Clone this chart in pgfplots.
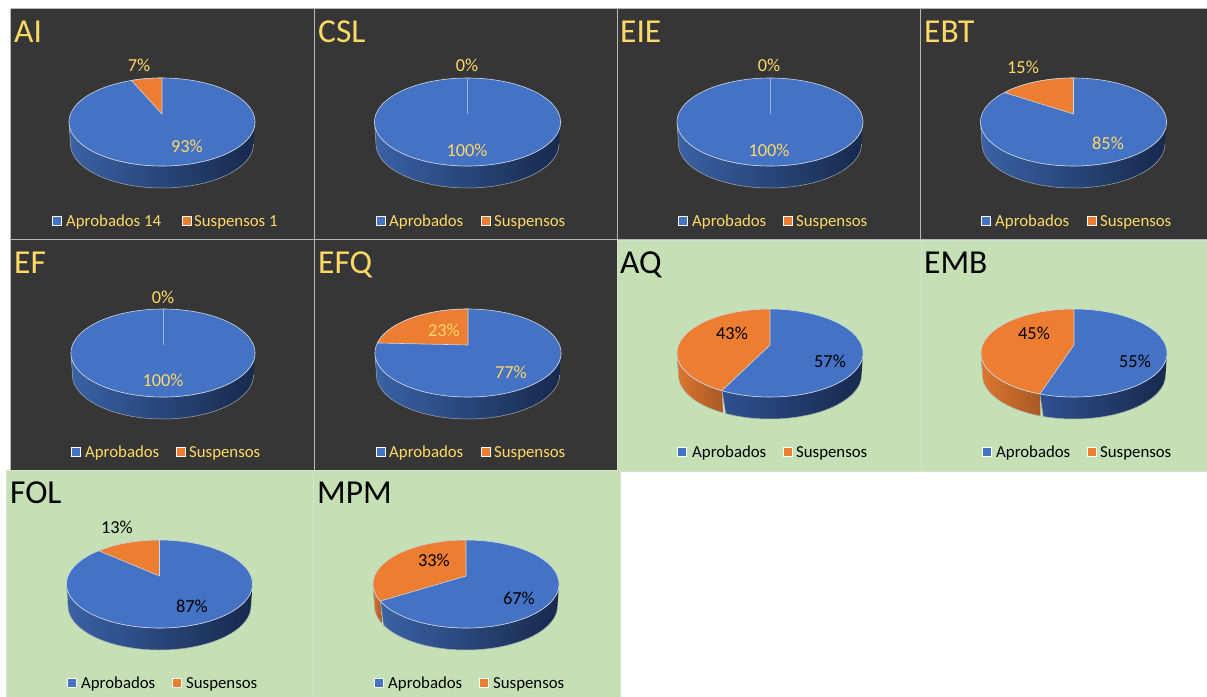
\documentclass[border=0pt]{standalone}
\usepackage{fontspec}
\setmainfont{Carlito}
\usepackage{pgfplots}
\pgfplotsset{compat=1.18}

\definecolor{darkbg}{HTML}{363636}
\definecolor{greenbg}{HTML}{C5E0B4}
\definecolor{edge}{HTML}{B8B8B8}
\definecolor{greenedge}{HTML}{D6E4CE}
\definecolor{pieblue}{HTML}{4472C4}
\definecolor{pieorange}{HTML}{ED7D31}
\definecolor{gold}{HTML}{FFD966}
\definecolor{rim}{HTML}{CDD5E2}
\definecolor{rimside}{HTML}{A9A9A9}
\definecolor{seam}{HTML}{9DB3DC}
\definecolor{pieside1}{HTML}{3A62A6}
\definecolor{pieside2}{HTML}{17294D}
\definecolor{pieside3}{HTML}{2F5090}
\definecolor{pieside4}{HTML}{243E72}
\definecolor{orside1}{HTML}{DB7630}
\definecolor{orside2}{HTML}{A85A24}

% panel: x1 x2 y1 y2 fill edge
\newcommand{\Panel}[6]{%
  \addplot[fill=#5, draw=#6, line width=0.8pt] coordinates {(#1,#3) (#2,#3) (#2,#4) (#1,#4) (#1,#3)};
}
% rim of the pie between two angles: [rx] cx cy t1 t2 leftcolor rightcolor
\newcommand{\Side}[7][93]{%
  \addplot[left color=#6, middle color=pieside4, right color=#7, draw=rimside, line width=0.5pt,
    variable=\s, domain=0:2, samples=121]
  ({#2 + (\s<=1 ? #1 : #1-1.5)*sin((\s<=1 ? #4+(#5-#4)*\s : #5-(#5-#4)*(\s-1)))},
   {#3 + (\s<=1 ? 0 : 22) - 44*cos((\s<=1 ? #4+(#5-#4)*\s : #5-(#5-#4)*(\s-1)))});
}
\newcommand{\OrSide}[4]{%
  \addplot[left color=orside1, right color=orside2, draw=rimside, line width=0.5pt,
    variable=\s, domain=0:2, samples=61]
  ({#1 + (\s<=1 ? 93 : 91.5)*sin((\s<=1 ? #3+(#4-#3)*\s : #4-(#4-#3)*(\s-1)))},
   {#2 + (\s<=1 ? 0 : 22) - 44*cos((\s<=1 ? #3+(#4-#3)*\s : #4-(#4-#3)*(\s-1)))});
}
% top face: cx cy share of Aprobados in percent, perspective offset of the seam
\newcommand{\Top}[4]{%
  \addplot[fill=pieblue, draw=rim, line width=0.6pt, variable=\t, domain=0:360, samples=121]
    ({#1+93*sin(\t)}, {#2-44*cos(\t)});
  \addplot[fill=pieorange, draw=rim, line width=0.6pt, variable=\t, domain=#3*3.6+#4:360, samples=61]
    ({#1+93*sin(\t)}, {#2-44*cos(\t)}) -- (axis cs:#1,#2-8) -- cycle;
}
% a pie at 100%: [rx] cx cy, apex y, top y of the seam
\newcommand{\FullTop}[5][93]{%
  \addplot[fill=pieblue, draw=rim, line width=0.6pt, variable=\t, domain=0:360, samples=121]
    ({#2+#1*sin(\t)}, {#3-44*cos(\t)});
  \addplot[draw=seam, line width=0.9pt] coordinates {(#2,#4) (#2,#5)};
}
\newcommand{\Keys}[3]{%
  \addplot[only marks, mark=square*, mark size=4.4pt,
    mark options={fill=pieblue, draw=white, line width=1pt}] coordinates {(#1,#3)};
  \addplot[only marks, mark=square*, mark size=4.4pt,
    mark options={fill=pieorange, draw=white, line width=1pt}] coordinates {(#2,#3)};
}

\begin{document}
\begin{tikzpicture}[
  title/.style={anchor=base west, inner sep=0pt, font=\fontsize{33.5}{34}\selectfont},
  pct/.style={anchor=center, inner sep=0pt, yshift=-0.2pt, font=\fontsize{18.3}{19}\selectfont},
  legtext/.style={anchor=west, inner sep=0pt, yshift=-1pt, font=\fontsize{16.8}{17}\selectfont},
  ]
  \path[use as bounding box] (0,0) rectangle (1207pt,696pt);
  \begin{axis}[
    scale only axis, width=1207pt, height=696pt,
    xmin=0, xmax=1207, ymin=0, ymax=696, y dir=reverse,
    hide axis, anchor=south west, at={(0,0)},
    ]
    % panels
    \Panel{10.5}{314.5}{8.5}{239.5}{darkbg}{edge}
    \Panel{314.5}{617.5}{8.5}{239.5}{darkbg}{edge}
    \Panel{617.5}{920.5}{8.5}{239.5}{darkbg}{edge}
    \Panel{920.5}{1212}{8.5}{239.5}{darkbg}{edge}
    \Panel{10.5}{314.5}{239.5}{470}{darkbg}{edge}
    \Panel{314.5}{617.5}{239.5}{470}{darkbg}{edge}
    \Panel{617.5}{921}{240}{471}{greenbg}{greenedge}
    \Panel{921}{1212}{240}{471}{greenbg}{greenedge}
    \Panel{6}{313.5}{470}{702}{greenbg}{greenedge}
    \Panel{313.5}{620}{470}{702}{greenbg}{greenedge}

    % AI
    \Side{162}{122}{90}{270}{pieside1}{pieside2}
    \Top{162}{122}{93}{6}
    % CSL
    \Side{467.5}{122}{90}{270}{pieside1}{pieside2}
    \FullTop{467.5}{122}{114}{78}
    % EIE
    \Side{770}{122}{90}{270}{pieside1}{pieside2}
    \FullTop{770}{122}{114}{78}
    % EBT
    \Side{1073.5}{122}{90}{270}{pieside1}{pieside2}
    \Top{1073.5}{122}{85}{6}
    % EF
    \Side[92]{163}{353}{90}{270}{pieside1}{pieside2}
    \FullTop[92]{163}{353}{345}{309}
    % EFQ
    \Side{468}{353}{90}{270}{pieside1}{pieside2}
    \Top{468}{353}{77}{6}
    % AQ
    \OrSide{770}{353}{211}{270}
    \Side{770}{353}{90}{211}{pieside3}{pieside2}
    \Top{770}{353}{57}{6}
    % EMB
    \OrSide{1074}{353}{201.5}{270}
    \Side{1074}{353}{90}{201.5}{pieside3}{pieside2}
    \Top{1074}{353}{55}{3.5}
    % FOL
    \Side{159.5}{584}{90}{270}{pieside1}{pieside2}
    \Top{159.5}{584}{87}{6}
    % MPM
    \OrSide{466}{584}{247}{270}
    \Side{466}{584}{90}{247}{pieside1}{pieside2}
    \Top{466}{584}{67}{6}

    % legend keys
    \Keys{57}{187}{221}
    \Keys{381}{486}{221}
    \Keys{683}{788}{221}
    \Keys{986}{1092}{221}
    \Keys{76}{181}{452}
    \Keys{381}{486}{452}
    \Keys{682}{788}{452}
    \Keys{987}{1092}{452}
    \Keys{72}{177}{683}
    \Keys{379}{484}{683}

    % titles
    \node[title, text=gold] at (axis cs:14,42) {AI};
    \node[title, text=gold] at (axis cs:318,42) {CSL};
    \node[title, text=gold] at (axis cs:620,42) {EIE};
    \node[title, text=gold] at (axis cs:924,42) {EBT};
    \node[title, text=gold] at (axis cs:14,273) {EF};
    \node[title, text=gold] at (axis cs:318,273) {EFQ};
    \node[title] at (axis cs:620,273) {AQ};
    \node[title] at (axis cs:924,273) {EMB};
    \node[title] at (axis cs:10,503) {FOL};
    \node[title] at (axis cs:317,503) {MPM};

    % percentages
    \node[pct, text=gold] at (axis cs:139,65) {7\%};
    \node[pct, text=gold] at (axis cs:187,146) {93\%};
    \node[pct, text=gold] at (axis cs:467,65) {0\%};
    \node[pct, text=gold] at (axis cs:467,150) {100\%};
    \node[pct, text=gold] at (axis cs:769,65) {0\%};
    \node[pct, text=gold] at (axis cs:769,150) {100\%};
    \node[pct, text=gold] at (axis cs:1023,67) {15\%};
    \node[pct, text=gold] at (axis cs:1108,143) {85\%};
    \node[pct, text=gold] at (axis cs:163,297) {0\%};
    \node[pct, text=gold] at (axis cs:163,380) {100\%};
    \node[pct, text=gold] at (axis cs:444,330) {23\%};
    \node[pct, text=gold] at (axis cs:511,372) {77\%};
    \node[pct] at (axis cs:732,333) {43\%};
    \node[pct] at (axis cs:830,361) {57\%};
    \node[pct] at (axis cs:1034,333) {45\%};
    \node[pct] at (axis cs:1135,361) {55\%};
    \node[pct] at (axis cs:117,527) {13\%};
    \node[pct] at (axis cs:192,606) {87\%};
    \node[pct] at (axis cs:434,560) {33\%};
    \node[pct] at (axis cs:519,598) {67\%};

    % legend text
    \node[legtext, text=gold] at (axis cs:66,221) {Aprobados 14};
    \node[legtext, text=gold] at (axis cs:194,221) {Suspensos 1};
    \node[legtext, text=gold] at (axis cs:389,221) {Aprobados};
    \node[legtext, text=gold] at (axis cs:494,221) {Suspensos};
    \node[legtext, text=gold] at (axis cs:692,221) {Aprobados};
    \node[legtext, text=gold] at (axis cs:796,221) {Suspensos};
    \node[legtext, text=gold] at (axis cs:995,221) {Aprobados};
    \node[legtext, text=gold] at (axis cs:1100,221) {Suspensos};
    \node[legtext, text=gold] at (axis cs:85,452) {Aprobados};
    \node[legtext, text=gold] at (axis cs:189,452) {Suspensos};
    \node[legtext, text=gold] at (axis cs:389,452) {Aprobados};
    \node[legtext, text=gold] at (axis cs:494,452) {Suspensos};
    \node[legtext] at (axis cs:692,452) {Aprobados};
    \node[legtext] at (axis cs:796,452) {Suspensos};
    \node[legtext] at (axis cs:996,452) {Aprobados};
    \node[legtext] at (axis cs:1100,452) {Suspensos};
    \node[legtext] at (axis cs:81,683) {Aprobados};
    \node[legtext] at (axis cs:186,683) {Suspensos};
    \node[legtext] at (axis cs:388,683) {Aprobados};
    \node[legtext] at (axis cs:493,683) {Suspensos};
  \end{axis}
\end{tikzpicture}
\end{document}
